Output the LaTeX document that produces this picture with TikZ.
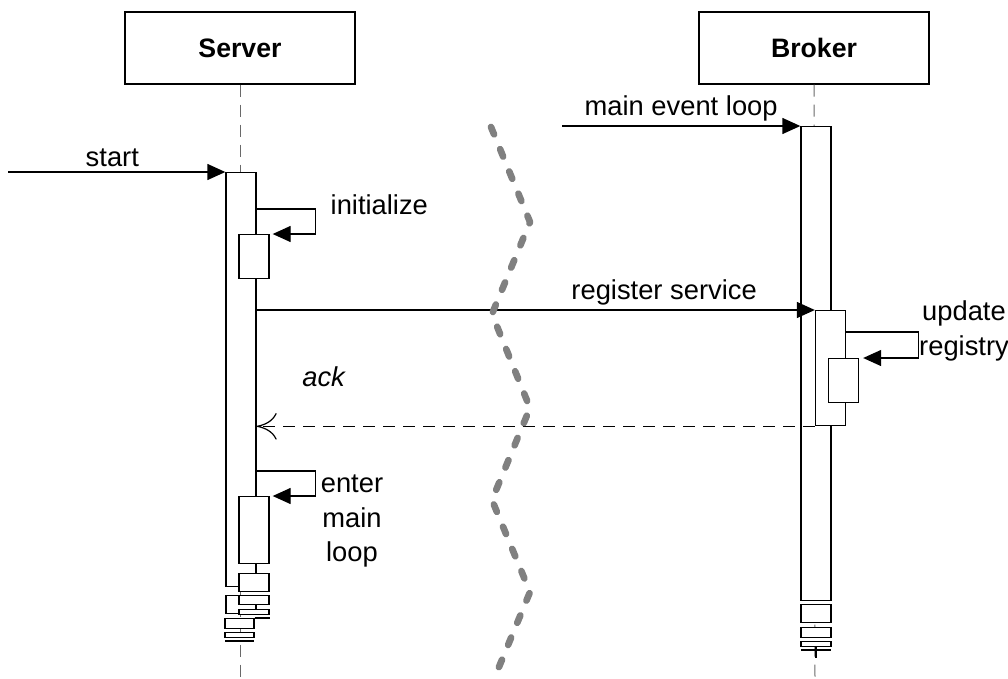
\documentclass[tikz,border=0pt]{standalone}
\usepackage{fontspec}
\setmainfont{Liberation Sans}
\usetikzlibrary{arrows.meta, calc}
\definecolor{lifegray}{RGB}{105,105,105}
\definecolor{wavegray}{RGB}{128,128,128}

\begin{document}
\begin{tikzpicture}[
  x=0.75pt, y=-0.75pt,
  every node/.style={font=\fontsize{20.5}{26}\selectfont},
  actor/.style={draw, line width=1pt, minimum width=172.5pt, minimum height=54pt, font=\fontsize{20}{26}\selectfont\bfseries},
  bar/.style={draw, fill=white, line width=1pt, minimum width=22.5pt, inner sep=0pt, anchor=north},
  life/.style={draw=lifegray, line width=0.75pt, dash pattern=on 9pt off 6pt},
  call/.style={line width=1pt, -{Triangle[length=13.5pt, width=12pt]}},
  reply/.style={line width=0.9pt, dash pattern=on 9pt off 6pt, -{To[length=15pt, width=20pt]}},
  wave/.style={draw=wavegray, line width=5pt, dash pattern=on 6pt off 12pt, line cap=round, line join=round}
]
  \useasboundingbox (0,0) rectangle (1008,679);

  \node[actor] (server) at (240,48) {Server};
  \node[actor] (broker) at (814,48) {Broker};
  \coordinate (srvend) at (240,679);
  \coordinate (brkend) at (815,679);
  \draw[life] (server.south) -- (srvend);
  \draw[life] (broker.south) -- (brkend);

  % server activations
  \node[bar, minimum height=310.5pt] (sbar) at (241,172) {};
  \node[bar, minimum height=33pt] (sinit) at (254,234) {};
  \node[bar, minimum height=50.25pt] (sloop) at (254,496) {};
  \node[bar, minimum height=13.5pt] (sloopb) at (254,573) {};
  \node[bar, minimum height=13.5pt] (sgrpa) at (241,595) {};
  \node[bar, minimum height=6.75pt] (sgrpb) at (254,595) {};
  \node[bar, minimum height=3.75pt] (sgrpc) at (254,609) {};
  \node[bar, minimum width=21.75pt, minimum height=7.5pt] (sgrpd) at (239.5,618) {};
  \node[bar, minimum width=21.75pt, minimum height=3.75pt] (sgrpe) at (239.5,632) {};
  \draw[line width=1pt] (sgrpd.north east) -- ++(15,0);
  \draw[line width=1pt] (225,641) -- (254,641);

  % broker activations
  \node[bar, minimum height=355.5pt] (bbar) at (816,126) {};
  \node[bar, minimum height=86.25pt] (breg) at (830.5,310) {};
  \node[bar, minimum height=33pt] (bupd) at (843.5,358) {};
  \node[bar, minimum height=13.5pt] (bbota) at (816,604) {};
  \node[bar, minimum height=7.5pt] (bbotb) at (816,627) {};
  \node[bar, minimum height=3.75pt] (bbotc) at (816,641) {};
  \draw[line width=1pt] (801,650) -- (831,650);
  \draw[line width=1pt] (bbotc.south) -- ++(0,11);

  % messages
  \coordinate (startsrc) at (8,172);
  \coordinate (mainsrc) at (562,126);
  \draw[call] (startsrc) -- (sbar.north west) node[pos=0.48, above=0pt] (startlbl) {start};
  \draw[call] ($(sbar.north east)+(0,37)$) -- ++(59,0) |- ([xshift=2.25pt]sinit.north east);
  \node[anchor=west] (initlbl) at (326,205) {initialize};
  \draw[call] (mainsrc) -- (bbar.north west) node[midway, above=0pt] (mainlbl) {main event loop};
  \draw[call] (sbar.east |- breg.north) -- (breg.north west) node[pos=0.73, above=0pt] (reglbl) {register service};
  \draw[call] ($(breg.north east)+(0,22)$) -- ++(72,0) |- ([xshift=3pt]bupd.north east);
  \node[align=center] (updlbl) at (964,331) {update\\registry};
  \draw[reply] (breg.south west) -- (sbar.east |- breg.south) node[pos=0.88, above=26pt] (acklbl) {\itshape ack};
  \draw[call] ($(sbar.north east)+(0,299)$) -- ++(59,0) |- ([xshift=2.25pt]sloop.north east);
  \node[align=center] (looplbl) at (352,521) {enter\\main\\loop};

  \draw[wave] (491,127) -- (530,222) -- (492,314) -- (530,408) -- (492,500) -- (530,592) -- (494,679);
\end{tikzpicture}
\end{document}
